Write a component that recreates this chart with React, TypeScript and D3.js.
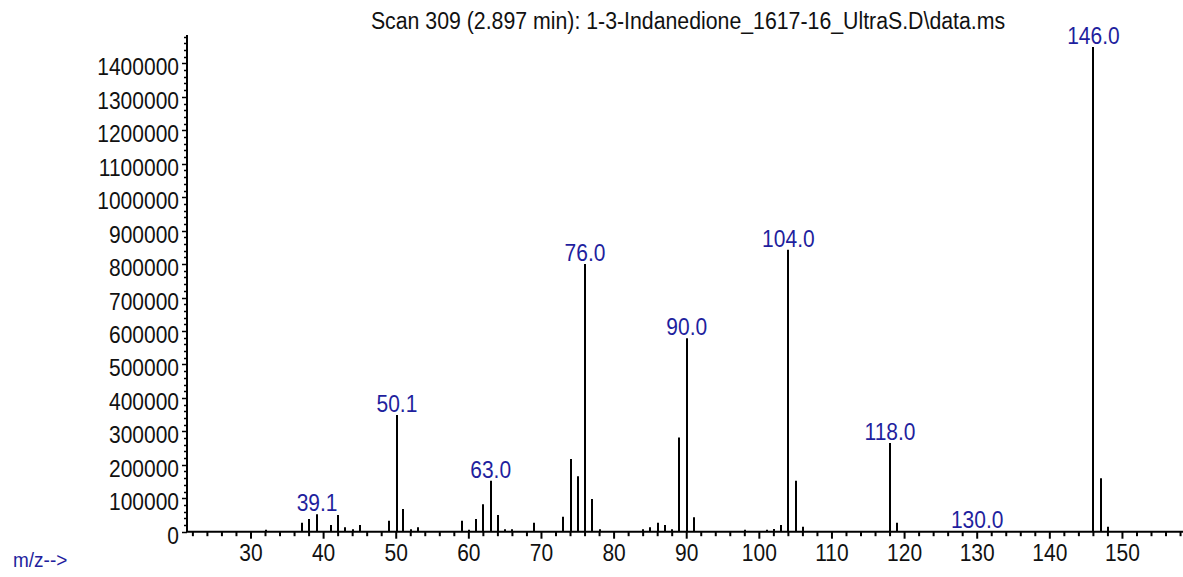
import * as d3 from 'd3';
import React from 'react';

const W = 1183;
const H = 577;

// m/z of each ion and its abundance
const mzValues = [
  32, 37, 38, 39.1, 41, 42, 43, 44, 45, 49, 50.1, 51, 52, 53, 59, 60, 61, 62, 63, 64,
  65, 66, 69, 73, 74, 75, 76, 77, 78, 84, 85, 86, 87, 88, 89, 90, 91, 98, 101, 102,
  103, 104, 105, 106, 118, 119, 130, 146, 147, 148,
];
const abundances = [
  6000, 27000, 38000, 52000, 20000, 50000, 13000, 7000, 20000, 33000, 349000, 68000, 7000, 13000, 33000, 6000, 38000, 82000, 152000, 50000,
  7000, 7000, 27000, 45000, 217000, 166000, 800000, 98000, 7000, 7000, 13000, 27000, 20000, 7000, 282000, 578000, 43000, 6000, 6000, 8000,
  20000, 843000, 152000, 15000, 265000, 27000, 2000, 1449000, 160000, 15000,
];
// peaks that carry a label
const labeledPeaks = ['39.1', '50.1', '63.0', '76.0', '90.0', '104.0', '118.0', '130.0', '146.0'];

const xTickLabels = [30, 40, 50, 60, 70, 80, 90, 100, 110, 120, 130, 140, 150];
const yTickLabels = [0, 100000, 200000, 300000, 400000, 500000, 600000, 700000, 800000, 900000, 1000000, 1100000, 1200000, 1300000, 1400000];

const title = 'Scan 309 (2.897 min): 1-3-Indanedione_1617-16_UltraS.D\\data.ms';

const FONT = '"Liberation Sans", Arial, sans-serif';
const BLUE = '#1f1f9e';
const SY = 1.1;

const App: React.FC = () => {
  const x = d3.scaleLinear().domain([21.19, 158.2]).range([187, 1182]);
  const y = d3.scaleLinear().domain([0, 1485000]).range([531.7, 35]);

  const xMinor = d3.range(22, 158.2, 2);
  const yMinor = d3.range(0, 1485001, 20000);

  const peaks = mzValues.map((m, i) => ({ m, v: abundances[i] }));

  const label = (txt: string, px: number, py: number, anchor: string, color: string, fs = 21) => (
    <text
      key={txt + px + py}
      transform={`translate(${px},${py}) scale(1,${SY})`}
      textAnchor={anchor}
      fontFamily={FONT}
      fontSize={fs}
      fill={color}
    >
      {txt}
    </text>
  );

  return (
    <div style={{ position: 'absolute', left: 0, top: 0 }}>
      <svg width={W} height={H} style={{ display: 'block', background: '#fff' }}>
        {label(title, 688, 29, 'middle', '#111', 21.3)}

        {/* y axis */}
        <line x1={187} x2={187} y1={y(1485000)} y2={y(0)} stroke="#000" strokeWidth={2} />
        {yMinor.map(v => (
          <line
            key={'ym' + v}
            x1={v % 100000 === 0 ? 182 : 184}
            x2={187}
            y1={Math.round(y(v)) + 0.5}
            y2={Math.round(y(v)) + 0.5}
            stroke="#000"
            strokeWidth={1.5}
          />
        ))}
        {yTickLabels.map(v => label(String(v), 179, y(v) + 12, 'end', '#111'))}

        {/* x axis */}
        <line x1={186} x2={1183} y1={y(0)} y2={y(0)} stroke="#000" strokeWidth={2} />
        {xMinor.map(m => (
          <line
            key={'xm' + m}
            x1={x(m)}
            x2={x(m)}
            y1={y(0)}
            y2={y(0) + (m % 10 === 0 ? 7 : 4.5)}
            stroke="#000"
            strokeWidth={2}
          />
        ))}
        {xTickLabels.map(m => label(String(m), x(m), 561, 'middle', '#111'))}

        {/* peaks */}
        {peaks.map(p => (
          <line
            key={'p' + p.m}
            x1={Math.round(x(p.m))}
            x2={Math.round(x(p.m))}
            y1={y(0)}
            y2={y(p.v)}
            stroke="#000"
            strokeWidth={2}
          />
        ))}
        {labeledPeaks.map(t => {
          const m = +t;
          const p = peaks.find(d => Math.abs(d.m - m) < 0.2)!;
          return label(t, x(p.m), y(p.v) - 3, 'middle', BLUE);
        })}

        {label('m/z-->', 13, 567, 'start', BLUE, 19)}
      </svg>
    </div>
  );
};

export default App;
